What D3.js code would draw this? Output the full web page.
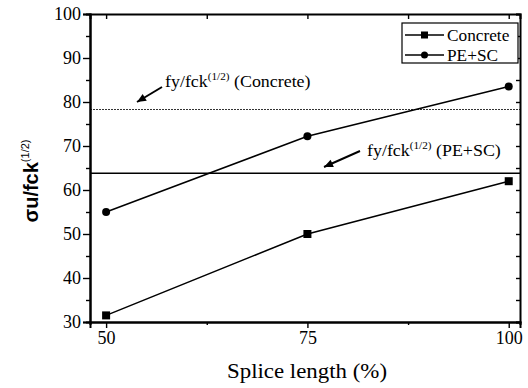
<!DOCTYPE html>
<html>
<head>
<meta charset="utf-8">
<script src="https://cdn.jsdelivr.net/npm/d3@7"></script>
<style>
body { margin: 0; background: #fff; }
text { fill: #000; }
</style>
</head>
<body>
<div id="container"></div>
<script>
var scene_width = 528, scene_height = 388

// data
var splice = [50, 75, 100]
var concrete = [31.5, 50, 62]
var peSc = [55, 72.2, 83.5]
var refConcrete = 78.3   // fy/fck^(1/2) (Concrete), dotted
var refPeSc = 63.8       // fy/fck^(1/2) (PE+SC), solid
var xTicks = [50, 75, 100]
var yTicks = [30, 40, 50, 60, 70, 80, 90, 100]

var pLeft = 90, pRight = 520, pTop = 14, pBottom = 322
var serif = 'Liberation Serif, Times New Roman, serif'
var sans = 'Liberation Sans, Arial, sans-serif'

var x = d3.scaleLinear().domain([48, 101.4]).range([pLeft, pRight])
var y = d3.scaleLinear().domain([30, 100]).range([pBottom, pTop])

var svg = d3.select('#container').append('svg')
    .attr('width', scene_width)
    .attr('height', scene_height)
    .style('font-family', serif)

// reference lines
svg.append('line')
    .attr('x1', pLeft).attr('x2', pRight)
    .attr('y1', y(refConcrete)).attr('y2', y(refConcrete))
    .attr('stroke', '#333').attr('stroke-width', 1.2)
    .attr('stroke-dasharray', '2,1')
svg.append('line')
    .attr('x1', pLeft).attr('x2', pRight)
    .attr('y1', y(refPeSc)).attr('y2', y(refPeSc))
    .attr('stroke', '#000').attr('stroke-width', 1.6)

// axes
var bottomAxis = d3.axisBottom(x).tickValues(xTicks).tickSize(6).tickPadding(3)
var gx = svg.append('g').attr('transform', 'translate(0,' + pBottom + ')').call(bottomAxis)
gx.selectAll('text').style('font-size', '18px').style('font-family', serif)
var topAxis = d3.axisBottom(x).tickValues([50, 62.5, 75, 87.5, 100]).tickSize(5).tickFormat('')
svg.append('g').attr('transform', 'translate(0,' + pTop + ')').call(topAxis)
var minorX = d3.axisBottom(x).tickValues([62.5, 87.5]).tickSize(3).tickFormat('')
svg.append('g').attr('transform', 'translate(0,' + pBottom + ')').call(minorX)

var leftAxis = d3.axisLeft(y).tickValues(yTicks).tickSize(7).tickPadding(2)
var gy = svg.append('g').attr('transform', 'translate(' + pLeft + ',0)').call(leftAxis)
gy.selectAll('text').style('font-size', '18px').style('font-family', serif)
var minorY = d3.axisLeft(y).tickValues(d3.range(35, 100, 10)).tickSize(4).tickFormat('')
svg.append('g').attr('transform', 'translate(' + pLeft + ',0)').call(minorY)
var rightAxis = d3.axisLeft(y).tickValues(d3.range(30, 101, 5)).tickSize(4).tickFormat('')
svg.append('g').attr('transform', 'translate(' + pRight + ',0)').call(rightAxis)

svg.selectAll('.domain').attr('stroke-width', 2)
svg.selectAll('.tick line').attr('stroke-width', 1.4)

// series
var line = d3.line().x(d => x(d[0])).y(d => y(d[1]))
var concreteData = splice.map((s, i) => [s, concrete[i]])
var peData = splice.map((s, i) => [s, peSc[i]])

svg.append('path').datum(concreteData).attr('d', line)
    .attr('fill', 'none').attr('stroke', '#000').attr('stroke-width', 1.5)
svg.append('path').datum(peData).attr('d', line)
    .attr('fill', 'none').attr('stroke', '#000').attr('stroke-width', 1.5)

svg.selectAll('.sq').data(concreteData).enter().append('rect')
    .attr('x', d => x(d[0]) - 4).attr('y', d => y(d[1]) - 4)
    .attr('width', 8).attr('height', 8).attr('fill', '#000')
svg.selectAll('.ci').data(peData).enter().append('circle')
    .attr('cx', d => x(d[0])).attr('cy', d => y(d[1]))
    .attr('r', 4).attr('fill', '#000')

// annotations
function annot(tx, ty, label, ax1, ay1, ax2, ay2) {
    var t = svg.append('text')
        .attr('transform', 'translate(' + tx + ',' + ty + ') scale(1.12,1)')
        .style('font-size', '16px')
    t.append('tspan').text('fy/fck')
    t.append('tspan').attr('dy', -7).style('font-size', '10px').text('(1/2)')
    t.append('tspan').attr('dy', 7).text(' ' + label)
    svg.append('line')
        .attr('x1', ax1).attr('y1', ay1).attr('x2', ax2).attr('y2', ay2)
        .attr('stroke', '#000').attr('stroke-width', 2)
    var ang = Math.atan2(ay2 - ay1, ax2 - ax1)
    var L = 9, W = 4
    var bx = ax2 - L * Math.cos(ang), by = ay2 - L * Math.sin(ang)
    svg.append('path')
        .attr('d', 'M' + ax2 + ',' + ay2 +
            'L' + (bx - W * Math.sin(ang)) + ',' + (by + W * Math.cos(ang)) +
            'L' + (bx + W * Math.sin(ang)) + ',' + (by - W * Math.cos(ang)) + 'Z')
        .attr('fill', '#000')
}
annot(165, 87, '(Concrete)', 162, 87, 137, 102)
annot(367, 156, '(PE+SC)', 360, 151, 324, 167)

// legend
var lg = svg.append('g')
lg.append('rect').attr('x', 402).attr('y', 23).attr('width', 116).attr('height', 40)
    .attr('fill', '#fff').attr('stroke', '#000').attr('stroke-width', 1.2)
var names = ['Concrete', 'PE+SC']
names.forEach(function (n, i) {
    var cy = 35 + i * 20
    lg.append('line').attr('x1', 405).attr('x2', 444).attr('y1', cy).attr('y2', cy)
        .attr('stroke', '#000').attr('stroke-width', 1.5)
    if (i === 0) lg.append('rect').attr('x', 421).attr('y', cy - 3.5).attr('width', 7).attr('height', 7)
    else lg.append('circle').attr('cx', 424.5).attr('cy', cy).attr('r', 3.5)
    lg.append('text')
        .attr('transform', 'translate(447,' + (cy + 5.5) + ') scale(1.08,1)')
        .style('font-size', '16px').text(n)
})

// axis titles
svg.append('text')
    .attr('transform', 'translate(38,181) rotate(-90)')
    .attr('text-anchor', 'middle')
    .style('font-family', sans).style('font-weight', 'bold').style('font-size', '20px')
    .call(function (t) {
        t.append('tspan').text('σu/fck')
        t.append('tspan').attr('dy', -9).style('font-size', '11px').style('font-weight', 'normal').text('(1/2)')
    })
svg.append('text')
    .attr('x', 307).attr('y', 378)
    .attr('text-anchor', 'middle')
    .attr('textLength', 160).attr('lengthAdjust', 'spacingAndGlyphs')
    .style('font-size', '21px')
    .text('Splice length (%)')
</script>
</body>
</html>
